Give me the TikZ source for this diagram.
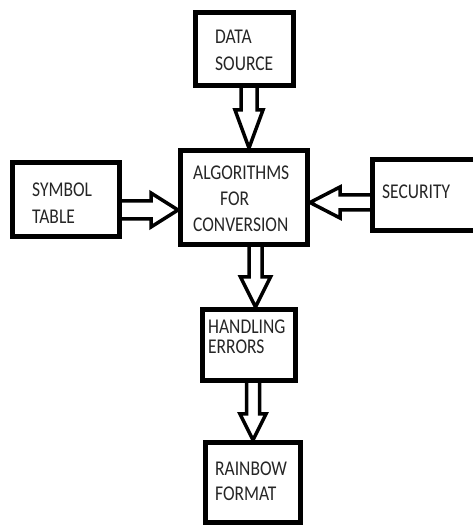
\documentclass[tikz,border=0pt]{standalone}
\usepackage{fontspec}
\setmainfont{Carlito}
\usetikzlibrary{calc}
\newcommand\varrowblk[6]{%
  \draw[arr] let \p1=(#1), \p2=(#2) in
    ({(#3-#4)*1pt},\y1) -- ({(#3-#4)*1pt},{\y2+(#6)*1pt}) -- ({(#3-#5)*1pt},{\y2+(#6)*1pt})
    -- ({#3*1pt},\y2) -- ({(#3+#5)*1pt},{\y2+(#6)*1pt}) -- ({(#3+#4)*1pt},{\y2+(#6)*1pt})
    -- ({(#3+#4)*1pt},\y1);}
\newcommand\harrowblk[6]{%
  \draw[arr] let \p1=(#1), \p2=(#2) in
    (\x1,{(#3+#4)*1pt}) -- ({\x2-(#6)*1pt},{(#3+#4)*1pt}) -- ({\x2-(#6)*1pt},{(#3+#5)*1pt})
    -- (\x2,{#3*1pt}) -- ({\x2-(#6)*1pt},{(#3-#5)*1pt}) -- ({\x2-(#6)*1pt},{(#3-#4)*1pt})
    -- (\x1,{(#3-#4)*1pt});}
\begin{document}
\begin{tikzpicture}[x=1pt,y=1pt,
  blk/.style={draw=black,line width=5pt,fill=white,inner sep=0pt},
  arr/.style={draw=black,line width=3.5pt,line join=miter},
  txt/.style={anchor=north west,inner sep=0pt,align=left,text=black!85,transform shape,yscale=1.2}]
\useasboundingbox (0,0) rectangle (473,527);
\clip (0,0) rectangle (473,527);
\fill[white] (0,0) rectangle (473,527);
% boxes
\node[blk,minimum width=98pt,minimum height=73pt] (ds) at (244.5,478) {};
\node[blk,minimum width=127pt,minimum height=94pt] (alg) at (244,329.5) {};
\node[blk,minimum width=107pt,minimum height=74pt] (sym) at (66,327.5) {};
\node[blk,minimum width=107pt,minimum height=71pt] (sec) at (426,332) {};
\node[blk,minimum width=93pt,minimum height=71pt] (he) at (249,182) {};
\node[blk,minimum width=95pt,minimum height=80pt] (rb) at (253,44.5) {};
% texts
\node[txt,font=\fontsize{17.5}{22.5}\selectfont] (dsT) at (215,497) {DATA\\SOURCE};
\node[txt,font=\fontsize{17.5}{21.7}\selectfont] (algT) at (193,361) {ALGORITHMS\\\hspace*{27pt}FOR\\CONVERSION};
\node[txt,font=\fontsize{17.5}{22.5}\selectfont] (symT) at (32,344) {SYMBOL\\TABLE};
\node[txt,font=\fontsize{17.5}{21}\selectfont] (secT) at (382,342) {SECURITY};
\node[txt,font=\fontsize{17.5}{16.3}\selectfont] (heT) at (208,207) {HANDLING\\ERRORS};
\node[txt,font=\fontsize{17.5}{20.8}\selectfont] (rbT) at (215,65) {RAINBOW\\FORMAT};
% arrows
\varrowblk{ds.south}{alg.north}{249}{8}{14}{38}
\varrowblk{alg.south}{he.north}{255.5}{6.5}{15}{30}
\varrowblk{he.south}{rb.north}{253}{6.5}{13}{26}
\harrowblk{sym.east}{alg.west}{317}{9}{17}{27}
\harrowblk{sec.west}{alg.east}{324.5}{7.5}{15.5}{-30}
\end{tikzpicture}
\end{document}
